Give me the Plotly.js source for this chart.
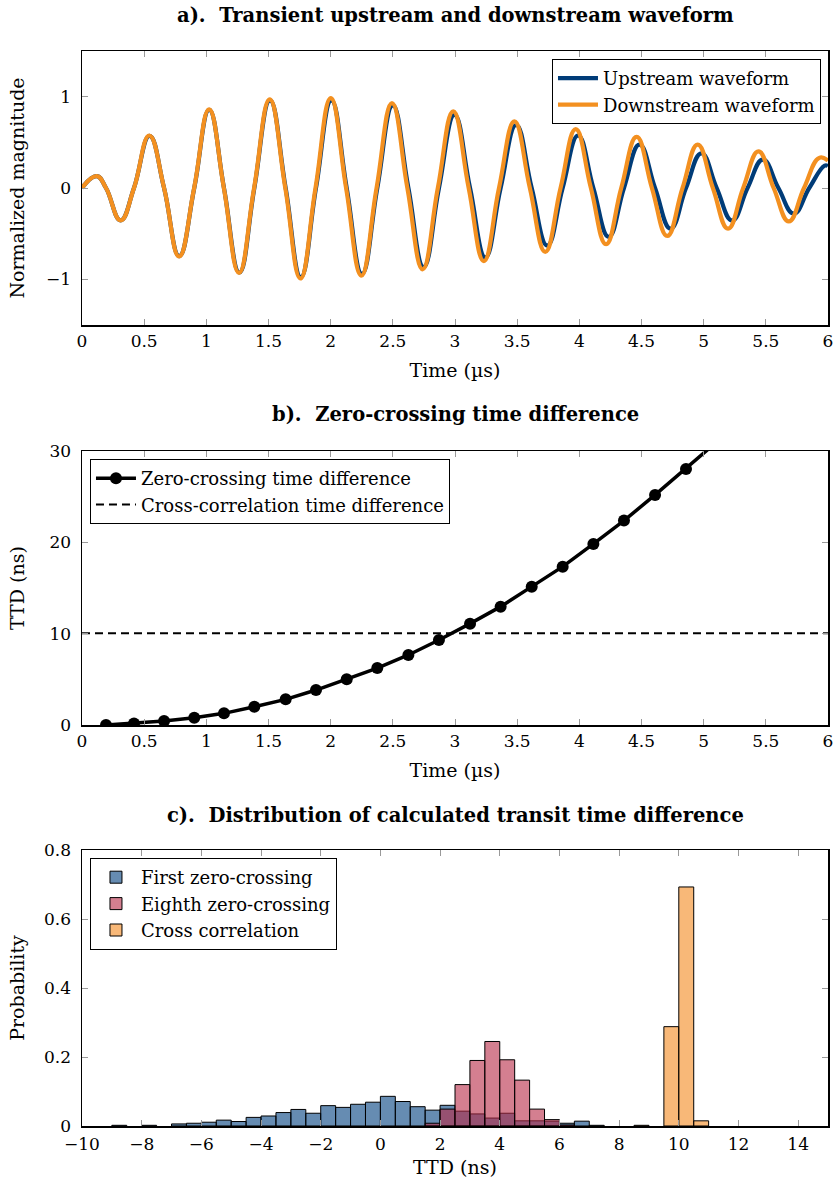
<!DOCTYPE html>
<html>
<head>
<meta charset="utf-8">
<script src="https://cdn.plot.ly/plotly-3.0.1.min.js"></script>
<style>html,body{margin:0;padding:0;background:#fff;}#chart{width:835px;height:1189px;}</style>
</head>
<body>
<div id="chart"></div>
<script>
// ---------- Panel a: waveforms (peaks, troughs, zero crossings) ----------
const upTime = [0, 0.118, 0.193, 0.310, 0.418, 0.543, 0.660, 0.782, 0.903, 1.023, 1.142, 1.266, 1.386, 1.512, 1.638, 1.760, 1.882, 2.006, 2.129, 2.252, 2.375, 2.500, 2.625, 2.748, 2.871, 2.996, 3.121, 3.244, 3.367, 3.492, 3.617, 3.742, 3.866, 3.990, 4.113, 4.236, 4.359, 4.484, 4.609, 4.734, 4.858, 4.982, 5.105, 5.229, 5.353, 5.477, 5.601, 5.725, 5.849, 5.973, 6.0];
const upValue = [0, 0.13, 0, -0.355, 0, 0.57, 0, -0.745, 0, 0.855, 0, -0.925, 0, 0.96, 0, -0.975, 0, 0.96, 0, -0.94, 0, 0.905, 0, -0.865, 0, 0.80, 0, -0.76, 0, 0.69, 0, -0.63, 0, 0.575, 0, -0.535, 0, 0.475, 0, -0.445, 0, 0.38, 0, -0.355, 0, 0.31, 0, -0.28, 0, 0.245, 0.24];
const downTime = [0, 0.118, 0.193, 0.310, 0.418, 0.541, 0.660, 0.781, 0.902, 1.022, 1.141, 1.263, 1.384, 1.510, 1.635, 1.757, 1.878, 2.001, 2.124, 2.247, 2.369, 2.493, 2.617, 2.740, 2.862, 2.986, 3.110, 3.232, 3.354, 3.478, 3.602, 3.726, 3.849, 3.971, 4.093, 4.215, 4.337, 4.461, 4.584, 4.707, 4.830, 4.952, 5.074, 5.196, 5.318, 5.441, 5.563, 5.685, 5.807, 5.930, 6.0];
const downValue = [0, 0.13, 0, -0.355, 0, 0.575, 0, -0.75, 0, 0.86, 0, -0.93, 0, 0.97, 0, -0.99, 0, 0.985, 0, -0.96, 0, 0.93, 0, -0.89, 0, 0.84, 0, -0.80, 0, 0.73, 0, -0.70, 0, 0.645, 0, -0.615, 0, 0.56, 0, -0.525, 0, 0.475, 0, -0.445, 0, 0.40, 0, -0.365, 0, 0.33, 0.30];

// ---------- Panel b: zero-crossing time difference ----------
const zcTime = [0.193, 0.418, 0.660, 0.903, 1.142, 1.386, 1.638, 1.882, 2.129, 2.375, 2.625, 2.871, 3.121, 3.367, 3.617, 3.866, 4.113, 4.359, 4.609, 4.858, 5.105];
const zcTTD = [0.0, 0.18, 0.44, 0.80, 1.28, 2.0, 2.81, 3.83, 5.0, 6.24, 7.67, 9.31, 11.1, 12.96, 15.15, 17.34, 19.83, 22.38, 25.19, 28.04, 31.0];
const ccTime = [0, 6];
const ccTTD = [10.05, 10.05];

// ---------- Panel c: histograms (bin centres, bin width 0.5 ns) ----------
const firstBins = [-8.75, -7.75, -6.75, -6.25, -5.75, -5.25, -4.75, -4.25, -3.75, -3.25, -2.75, -2.25, -1.75, -1.25, -0.75, -0.25, 0.25, 0.75, 1.25, 1.75, 2.25, 2.75, 3.25, 3.75, 4.25, 4.75, 5.25, 5.75, 6.25, 6.75, 7.25];
const firstProb = [0.002, 0.002, 0.006, 0.008, 0.011, 0.017, 0.013, 0.025, 0.029, 0.039, 0.048, 0.037, 0.059, 0.054, 0.063, 0.069, 0.086, 0.071, 0.056, 0.046, 0.060, 0.043, 0.035, 0.023, 0.037, 0.015, 0.015, 0.014, 0.008, 0.014, 0.002];
const eighthBins = [1.75, 2.25, 2.75, 3.25, 3.75, 4.25, 4.75, 5.25, 5.75, 6.25];
const eighthProb = [0.008, 0.049, 0.120, 0.190, 0.245, 0.192, 0.133, 0.049, 0.0185, 0.003];
const ccBins = [8.75, 9.75, 10.25, 10.75];
const ccProb = [0.002, 0.288, 0.693, 0.015];
const binWidth = 0.5;

const FONT = 'DejaVu Serif';
const BLUE_LINE = '#003c78';
const ORANGE_LINE = '#f39020';

const traces = [
  {x: upTime, y: upValue, xaxis: 'x', yaxis: 'y', type: 'scatter', mode: 'lines', name: 'Upstream waveform',
   line: {color: BLUE_LINE, width: 4.2, shape: 'spline', smoothing: 1.3}, legend: 'legend'},
  {x: downTime, y: downValue, xaxis: 'x', yaxis: 'y', type: 'scatter', mode: 'lines', name: 'Downstream waveform',
   line: {color: ORANGE_LINE, width: 4.2, shape: 'spline', smoothing: 1.3}, legend: 'legend'},
  {x: zcTime, y: zcTTD, xaxis: 'x2', yaxis: 'y2', type: 'scatter', mode: 'lines+markers', name: 'Zero-crossing time difference',
   line: {color: '#000', width: 3.5}, marker: {color: '#000', size: 12}, legend: 'legend2'},
  {x: ccTime, y: ccTTD, xaxis: 'x2', yaxis: 'y2', type: 'scatter', mode: 'lines', name: 'Cross-correlation time difference',
   line: {color: '#000', width: 2, dash: '8px,5px'}, legend: 'legend2'},
  {x: firstBins, y: firstProb, width: binWidth, xaxis: 'x3', yaxis: 'y3', type: 'bar', name: 'First zero-crossing',
   marker: {color: 'rgba(0,63,127,0.6)', line: {color: '#000', width: 1}}, legend: 'legend3'},
  {x: eighthBins, y: eighthProb, width: binWidth, xaxis: 'x3', yaxis: 'y3', type: 'bar', name: 'Eighth zero-crossing',
   marker: {color: 'rgba(183,42,70,0.6)', line: {color: '#000', width: 1}}, legend: 'legend3'},
  {x: ccBins, y: ccProb, width: binWidth, xaxis: 'x3', yaxis: 'y3', type: 'bar', name: 'Cross correlation',
   marker: {color: 'rgba(243,137,30,0.6)', line: {color: '#000', width: 1}}, legend: 'legend3'}
];

const tickFont = {family: FONT, size: 17, color: '#000'};
const titleFont = {family: FONT, size: 19, color: '#000'};
function xax(anchor, range, dtick, titleText, standoff, labelGap) {
  return {anchor: anchor, range: range, dtick: dtick, tick0: 0, ticks: 'inside', ticklen: 6, tickwidth: 1, tickcolor: '#999',
    mirror: 'allticks', showline: true, linecolor: '#000', linewidth: 1.5, showgrid: false, zeroline: false,
    ticklabelstandoff: labelGap,
    tickfont: tickFont, title: {text: titleText, font: titleFont, standoff: standoff}, fixedrange: true};
}
function yax(anchor, domain, range, dtick, titleText, standoff) {
  return {anchor: anchor, domain: domain, range: range, dtick: dtick, tick0: 0, ticks: 'inside', ticklen: 6, tickwidth: 1, tickcolor: '#999',
    mirror: 'allticks', showline: true, linecolor: '#000', linewidth: 1.5, showgrid: false, zeroline: false,
    ticklabelstandoff: 6,
    tickfont: tickFont, title: {text: titleText, font: titleFont, standoff: standoff}, fixedrange: true};
}

const legendBase = {font: {family: FONT, size: 18, color: '#000'}, bordercolor: '#000', borderwidth: 1, bgcolor: '#fff',
  tracegroupgap: 0, itemwidth: 40};
const panelTitleFont = {family: FONT, size: 19.5, color: '#000'};

const layout = {
  width: 835, height: 1189,
  margin: {l: 82, r: 7, t: 51, b: 63},
  paper_bgcolor: '#fff', plot_bgcolor: '#fff',
  font: {family: FONT, color: '#000'},
  barmode: 'overlay', bargap: 0,
  xaxis: xax('y', [0, 6], 0.5, 'Time (µs)', 14, 0),
  yaxis: yax('x', [0.7451, 1], [-1.5, 1.5], 1, 'Normalized magnitude', 16),
  xaxis2: xax('y2', [0, 6], 0.5, 'Time (µs)', 14, 0),
  yaxis2: yax('x2', [0.3730, 0.6279], [0, 30], 10, 'TTD (ns)', 20),
  xaxis3: xax('y3', [-10, 15], 2, 'TTD (ns)', 8, 2),
  yaxis3: yax('x3', [0, 0.2567], [0, 0.8], 0.2, 'Probability', 14),
  legend: Object.assign({}, legendBase, {x: 0.9906, y: 0.9926, xanchor: 'right', yanchor: 'top'}),
  legend2: Object.assign({}, legendBase, {x: 0.0107, y: 0.6205, xanchor: 'left', yanchor: 'top'}),
  legend3: Object.assign({}, legendBase, {x: 0.0107, y: 0.2493, xanchor: 'left', yanchor: 'top'}),
  showlegend: true,
  annotations: [
    {text: '<b>a).  Transient upstream and downstream waveform</b>', xref: 'paper', yref: 'paper', x: 0.5, y: 1.0326, xanchor: 'center', yanchor: 'middle', showarrow: false, font: panelTitleFont},
    {text: '<b>b).  Zero-crossing time difference</b>', xref: 'paper', yref: 'paper', x: 0.5, y: 0.6623, xanchor: 'center', yanchor: 'middle', showarrow: false, font: panelTitleFont},
    {text: '<b>c).  Distribution of calculated transit time difference</b>', xref: 'paper', yref: 'paper', x: 0.5, y: 0.2884, xanchor: 'center', yanchor: 'middle', showarrow: false, font: panelTitleFont}
  ]
};

Plotly.newPlot('chart', traces, layout, {displayModeBar: false, staticPlot: true});
</script>
</body>
</html>
